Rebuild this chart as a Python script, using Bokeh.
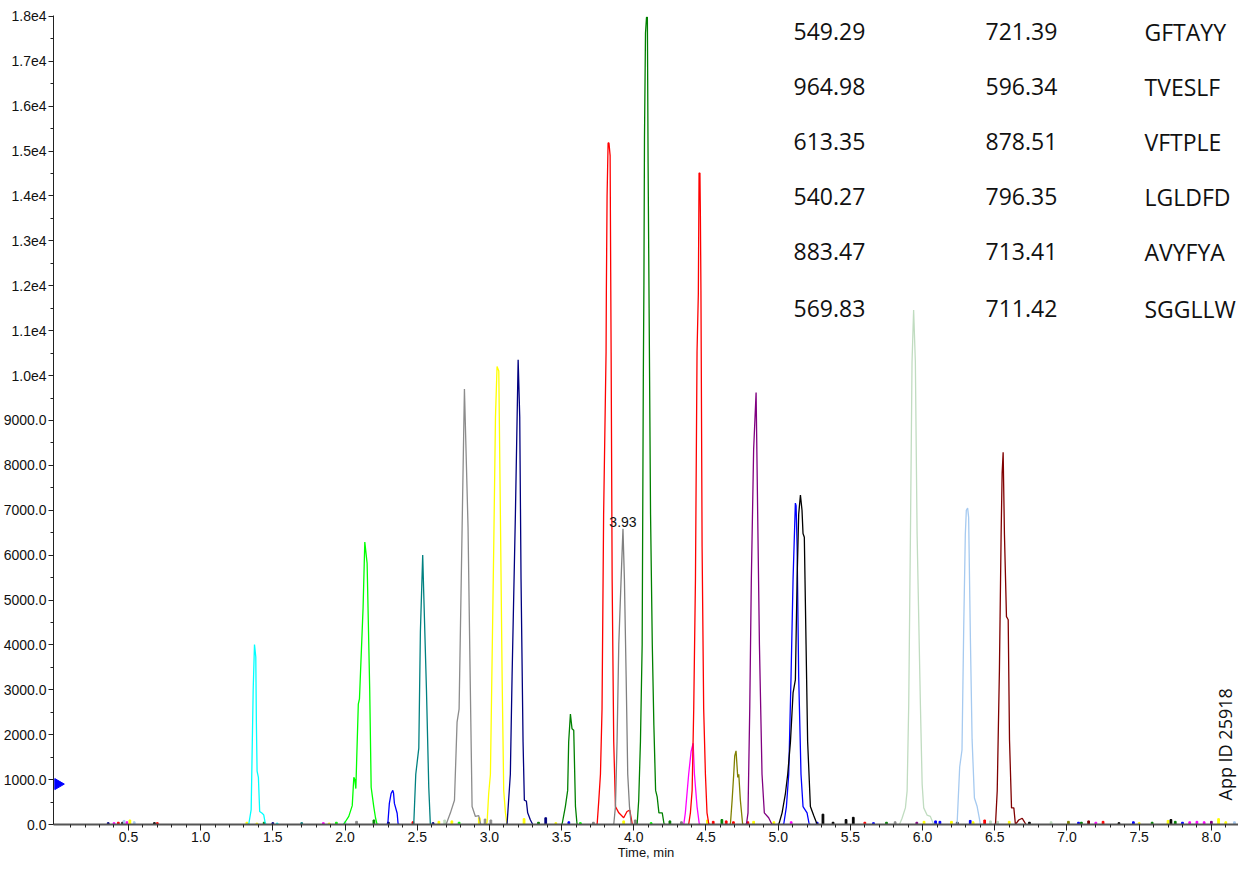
from math import pi
from bokeh.plotting import figure
from bokeh.models import (Range1d, FixedTicker, CustomJSTickFormatter, Label, ColumnDataSource)
from bokeh.embed import file_html
from bokeh.resources import INLINE
from bokeh.core.properties import value

# ---------------- data ----------------
CY, LI, BL, TE = "#00FFFF", "#00FF00", "#0000FF", "#008080"
GR1, GR2, YE, NA = "#8c8c8c", "#808080", "#FFFF00", "#000080"
GN, RE, MA, OL = "#008000", "#FF0000", "#FF00FF", "#808000"
PU, BK, LG, LB, MR = "#800080", "#000000", "#C0DCC0", "#A6CAF0", "#800000"

cyan_t = [1.320, 1.333, 1.350, 1.364, 1.373, 1.382, 1.386, 1.391, 1.400, 1.409, 1.426, 1.437, 1.449, 1.460]
cyan_i = [0, 0, 330, 3000, 4010, 3730, 2280, 1190, 1050, 290, 250, 215, 0, 0]

lime_t = [1.990, 2.026, 2.050, 2.061, 2.068, 2.075, 2.092, 2.100, 2.125, 2.137, 2.153, 2.171, 2.181, 2.199, 2.211, 2.222, 2.235]
lime_i = [0, 180, 420, 1050, 1000, 800, 2680, 2800, 4820, 6290, 5820, 3000, 830, 400, 150, 0, 0]

blue1_t = [2.285, 2.296, 2.307, 2.319, 2.331, 2.336, 2.342, 2.361, 2.368, 2.378]
blue1_i = [0, 0, 470, 690, 760, 700, 470, 250, 0, 0]

teal_t = [2.465, 2.476, 2.490, 2.511, 2.522, 2.538, 2.545, 2.564, 2.580, 2.591, 2.600]
teal_i = [0, 0, 1120, 1700, 4300, 6000, 5170, 3000, 830, 0, 0]

gray1_t = [2.700, 2.730, 2.758, 2.776, 2.790, 2.811, 2.827, 2.852, 2.868, 2.880, 2.903, 2.926, 2.940]
gray1_i = [0, 260, 540, 2280, 2570, 6620, 9700, 6620, 3000, 400, 180, 200, 0]

yellow_t = [2.975, 2.984, 2.995, 3.007, 3.030, 3.042, 3.053, 3.065, 3.076, 3.088, 3.099, 3.111, 3.122]
yellow_i = [0, 50, 690, 1120, 6190, 9080, 10200, 10100, 6910, 3290, 760, 260, 0]

navy_t = [3.115, 3.122, 3.145, 3.157, 3.180, 3.199, 3.210, 3.219, 3.233, 3.242, 3.256, 3.265, 3.284, 3.300]
navy_i = [0, 0, 1120, 3300, 6910, 10350, 9080, 5470, 1845, 540, 520, 260, 100, 0]

green1_t = [3.495, 3.503, 3.526, 3.542, 3.549, 3.561, 3.572, 3.584, 3.596, 3.607, 3.615]
green1_i = [0, 0, 400, 760, 1845, 2460, 2135, 2100, 400, 0, 0]

red1_t = [3.740, 3.746, 3.757, 3.769, 3.780, 3.791, 3.808, 3.810, 3.815, 3.822, 3.828, 3.836, 3.840, 3.843,
          3.850, 3.861, 3.873, 3.896, 3.930, 3.953, 3.972, 3.990]
red1_i = [0, 0, 510, 1120, 2570, 6910, 10530, 11900, 14000, 15180, 15180, 14900, 12300, 10500,
          5470, 1845, 400, 260, 150, 290, 320, 0]

gray2_t = [3.855, 3.861, 3.873, 3.884, 3.896, 3.912, 3.925, 3.935, 3.947, 3.958, 3.970, 3.982, 3.990]
gray2_i = [0, 0, 400, 1845, 4017, 5460, 6585, 5460, 3290, 1120, 400, 0, 0]

green2_t = [4.015, 4.023, 4.034, 4.046, 4.058, 4.066, 4.070, 4.074, 4.081, 4.088, 4.094, 4.099, 4.106,
            4.116, 4.128, 4.139, 4.151, 4.162, 4.174, 4.197, 4.210, 4.220]
green2_i = [0, 0, 540, 1845, 4017, 10000, 12000, 15300, 17630, 17980, 17980, 14730, 11500,
            6910, 4017, 2210, 760, 615, 260, 260, 0, 0]

magenta_t = [4.340, 4.346, 4.357, 4.380, 4.397, 4.411, 4.420, 4.438, 4.454, 4.465]
magenta_i = [0, 0, 260, 1120, 1630, 1810, 1120, 400, 0, 0]

red2_t = [4.375, 4.380, 4.392, 4.404, 4.415, 4.427, 4.438, 4.447, 4.452, 4.458, 4.461, 4.465, 4.467,
          4.473, 4.484, 4.496, 4.507, 4.520, 4.530]
red2_i = [0, 0, 260, 760, 2570, 5460, 10530, 11830, 14510, 14510, 13640, 11900, 10530,
          6190, 2570, 1120, 260, 0, 0]

olive_t = [4.660, 4.669, 4.681, 4.692, 4.699, 4.708, 4.715, 4.720, 4.727, 4.738, 4.754, 4.765]
olive_i = [0, 0, 543, 1120, 1530, 1640, 1300, 1050, 1120, 543, 0, 0]

purple_t = [4.770, 4.780, 4.791, 4.803, 4.814, 4.830, 4.847, 4.858, 4.870, 4.888, 4.904, 4.934, 4.957, 4.970]
purple_i = [0, 0, 260, 2570, 5460, 8360, 9620, 6910, 4017, 1120, 260, 150, 0, 0]

blue2_t = [5.030, 5.038, 5.057, 5.073, 5.089, 5.103, 5.119, 5.124, 5.131, 5.142, 5.158, 5.172, 5.200, 5.215, 5.225]
blue2_i = [0, 0, 400, 1120, 3290, 5460, 7160, 7100, 6190, 3290, 1120, 400, 260, 0, 0]

black_t = [4.995, 5.004, 5.027, 5.050, 5.066, 5.085, 5.103, 5.119, 5.131, 5.142, 5.154, 5.165, 5.172,
           5.181, 5.193, 5.204, 5.223, 5.246, 5.270, 5.280]
black_i = [0, 0, 260, 690, 1120, 1845, 2930, 3220, 5460, 6910, 7340, 7000, 6480,
           6400, 4017, 1845, 400, 200, 0, 0]

lgreen_t = [5.840, 5.858, 5.881, 5.893, 5.904, 5.916, 5.927, 5.938, 5.950, 5.962, 5.985, 5.997, 6.008,
            6.031, 6.054, 6.077, 6.090]
lgreen_i = [0, 140, 370, 750, 2660, 6480, 10300, 11460, 10300, 6480, 2660, 900, 370, 210, 180, 0, 0]

lblue_t = [6.230, 6.239, 6.257, 6.273, 6.285, 6.296, 6.303, 6.312, 6.319, 6.331, 6.343, 6.359, 6.378,
           6.393, 6.400, 6.410]
lblue_i = [0, 0, 1280, 1660, 4400, 6460, 7000, 7050, 6840, 4170, 1890, 590, 400, 140, 0, 0]

maroon_t = [6.495, 6.505, 6.517, 6.532, 6.544, 6.551, 6.558, 6.567, 6.581, 6.593, 6.602, 6.616, 6.632,
            6.643, 6.666, 6.690, 6.705, 6.715]
maroon_i = [0, 0, 750, 3410, 6460, 7830, 8290, 6460, 4630, 4560, 1890, 370, 370, 0, 100, 140, 60, 0]

# small baseline noise spikes (time, intensity, colour)
noise_time = [0.36, 0.40, 0.43, 0.46, 0.47, 0.49, 0.51, 0.54, 0.68, 0.70, 1.32, 1.39, 1.44, 1.50, 1.53,
              1.70, 1.85, 1.89, 1.94, 2.00, 2.08, 2.20, 2.30, 2.47, 2.61, 2.65, 2.69, 2.74, 2.79, 2.93,
              2.97, 3.01, 3.24, 3.34, 3.39, 3.46, 3.55, 3.63, 3.72, 3.93, 4.01, 4.12, 4.25, 4.33, 4.51,
              4.55, 4.61, 4.64, 4.69, 4.79, 4.83, 4.97, 5.09, 5.27, 5.31, 5.38, 5.47, 5.52, 5.60, 5.66,
              5.75, 5.81, 5.96, 6.01, 6.09, 6.12, 6.20, 6.24, 6.33, 6.35, 6.43, 6.47, 6.52, 6.60, 6.74,
              6.89, 7.01, 7.08, 7.10, 7.15, 7.20, 7.25, 7.36, 7.46, 7.50, 7.59, 7.70, 7.72, 7.75, 7.80,
              7.85, 7.90, 7.95, 8.00, 8.05, 8.10, 8.16]
noise_height = [40, 40, 50, 50, 90, 60, 100, 60, 40, 40, 50, 30, 50, 40, 30,
                40, 40, 30, 50, 60, 70, 100, 50, 60, 40, 70, 100, 80, 50, 150,
                120, 100, 130, 50, 150, 40, 60, 40, 50, 80, 100, 40, 80, 60, 100,
                70, 110, 80, 60, 60, 70, 60, 60, 50, 230, 50, 110, 160, 50, 40,
                50, 60, 50, 70, 80, 70, 70, 50, 90, 60, 100, 80, 70, 70, 50,
                60, 70, 50, 50, 80, 50, 70, 40, 60, 40, 50, 90, 110, 70, 50,
                60, 70, 60, 70, 130, 60, 60]
noise_color = [NA, MA, RE, BK, LB, MA, YE, LB, BK, RE, YE, YE, GN, NA, CY,
               TE, MA, YE, LI, LB, GR1, GN, BK, RE, NA, YE, LG, YE, LI, YE,
               GR1, GR1, YE, GN, NA, YE, BL, LI, GR2, YE, GR2, LI, GN, GR2, YE,
               RE, GN, RE, RE, RE, YE, YE, MA, BL, BK, BK, BK, BK, RE, BL,
               GN, GR1, PU, YE, BL, BL, YE, BK, BL, YE, RE, LG, LG, YE, BK,
               LG, OL, BL, GN, MR, MA, RE, BK, BL, YE, GN, YE, BK, GN, BL,
               MA, MA, MA, PU, YE, YE, LB]

peak_label_t = [3.925]
peak_label_i = [6585]
peak_label_text = ["3.93"]

marker_t = [0.012]
marker_i = [900]

table_q1 = ["549.29", "964.98", "613.35", "540.27", "883.47", "569.83"]
table_q3 = ["721.39", "596.34", "878.51", "796.35", "713.41", "711.42"]
table_pep = ["GFTAYY", "TVESLF", "VFTPLE", "LGLDFD", "AVYFYA", "SGGLLW"]

x_major = [0.5, 1.0, 1.5, 2.0, 2.5, 3.0, 3.5, 4.0, 4.5, 5.0, 5.5, 6.0, 6.5, 7.0, 7.5, 8.0]
y_major = list(range(0, 18001, 1000))

traces = [
    (cyan_t, cyan_i, CY), (lime_t, lime_i, LI), (blue1_t, blue1_i, BL), (teal_t, teal_i, TE),
    (gray1_t, gray1_i, GR1), (yellow_t, yellow_i, YE), (navy_t, navy_i, NA), (green1_t, green1_i, GN),
    (red1_t, red1_i, RE), (gray2_t, gray2_i, GR2), (green2_t, green2_i, GN), (magenta_t, magenta_i, MA),
    (red2_t, red2_i, RE), (olive_t, olive_i, OL), (purple_t, purple_i, PU), (blue2_t, blue2_i, BL),
    (black_t, black_i, BK), (lgreen_t, lgreen_i, LG), (lblue_t, lblue_i, LB), (maroon_t, maroon_i, MR),
]

# ---------------- figure ----------------
W, H = 1238, 864
BORDER_L, BORDER_T, BORDER_B = 53, 15, 40
FRAME_BOTTOM = H - BORDER_B  # px from top of canvas

p = figure(width=W, height=H, output_backend="svg", toolbar_location=None,
           x_range=Range1d(-0.019, 8.188), y_range=Range1d(0, 18020),
           min_border_left=BORDER_L, min_border_right=0, min_border_top=BORDER_T,
           min_border_bottom=BORDER_B)
p.outline_line_color = None
p.xgrid.visible = False
p.ygrid.visible = False
p.background_fill_color = "white"
p.border_fill_color = "white"

FONT = "Liberation Sans"

p.xaxis.ticker = FixedTicker(ticks=x_major, minor_ticks=[round(0.1 * k, 1) for k in range(1, 82)])
p.xaxis.formatter = CustomJSTickFormatter(code="return tick.toFixed(1);")
p.xaxis.axis_line_color = "#555555"
p.xaxis.axis_line_width = 2
p.xaxis.major_tick_line_color = "#222222"
p.xaxis.minor_tick_line_color = "#222222"
p.xaxis.major_tick_in = 0
p.xaxis.major_tick_out = 6
p.xaxis.minor_tick_in = 0
p.xaxis.minor_tick_out = 3
p.xaxis.major_label_standoff = 1
p.xaxis.axis_label = "Time, min"
p.xaxis.axis_label_standoff = 0
p.xaxis.axis_label_text_font = FONT
p.xaxis.axis_label_text_font_size = "13px"
p.xaxis.axis_label_text_font_style = "normal"
p.xaxis.axis_label_text_color = "#111111"

p.yaxis.ticker = FixedTicker(ticks=y_major, minor_ticks=list(range(500, 18000, 1000)))
p.yaxis.formatter = CustomJSTickFormatter(
    code="return tick >= 10000 ? (tick/10000).toFixed(1) + 'e4' : tick.toFixed(1);")
p.yaxis.axis_line_color = "#222222"
p.yaxis.axis_line_width = 1
p.yaxis.major_tick_line_color = "#222222"
p.yaxis.minor_tick_line_color = "#222222"
p.yaxis.major_tick_in = 0
p.yaxis.major_tick_out = 5
p.yaxis.minor_tick_in = 0
p.yaxis.minor_tick_out = 3
p.yaxis.major_label_standoff = 2

for ax in (p.xaxis, p.yaxis):
    ax.major_label_text_font = FONT
    ax.major_label_text_font_size = "14px"
    ax.major_label_text_color = "#111111"

# baseline noise
nsrc = ColumnDataSource(dict(t=noise_time, h=noise_height, c=noise_color))
p.vbar(x="t", top="h", bottom=0, width=0.012, color="c", source=nsrc)

# chromatogram traces
for t, i, c in traces:
    p.line(t, i, line_color=c, line_width=1.3)

# apex label
p.text(x=peak_label_t, y=peak_label_i, text=peak_label_text, text_font=value(FONT),
       text_font_size="14px", text_align="center", text_baseline="bottom", y_offset=-2,
       text_color="#111111")

# blue marker on the y axis
p.scatter(x=marker_t, y=marker_i, marker="triangle", angle=-pi / 2, size=11,
          fill_color="#0000FF", line_color="#0000FF")

# table (page pixel positions converted to frame-relative screen units)
col_page_x = [793, 985, 1144]
row_page_y = [31, 86, 141, 196, 251, 308]
for k in range(len(table_q1)):
    for cx, txt in zip(col_page_x, (table_q1[k], table_q3[k], table_pep[k])):
        p.add_layout(Label(x=cx - BORDER_L, y=FRAME_BOTTOM - row_page_y[k],
                           x_units="screen", y_units="screen", text=txt,
                           text_font="Open Sans", text_font_size="23px", text_color="#111111",
                           text_align="left", text_baseline="middle"))

# vertical app id
p.add_layout(Label(x=1224 - BORDER_L, y=FRAME_BOTTOM - 800, x_units="screen", y_units="screen",
                   text="App ID 25918", angle=pi / 2, text_font="Open Sans", text_font_size="18px",
                   text_color="#111111", text_align="left", text_baseline="middle"))

open("out.html", "w").write(file_html(p, INLINE))
